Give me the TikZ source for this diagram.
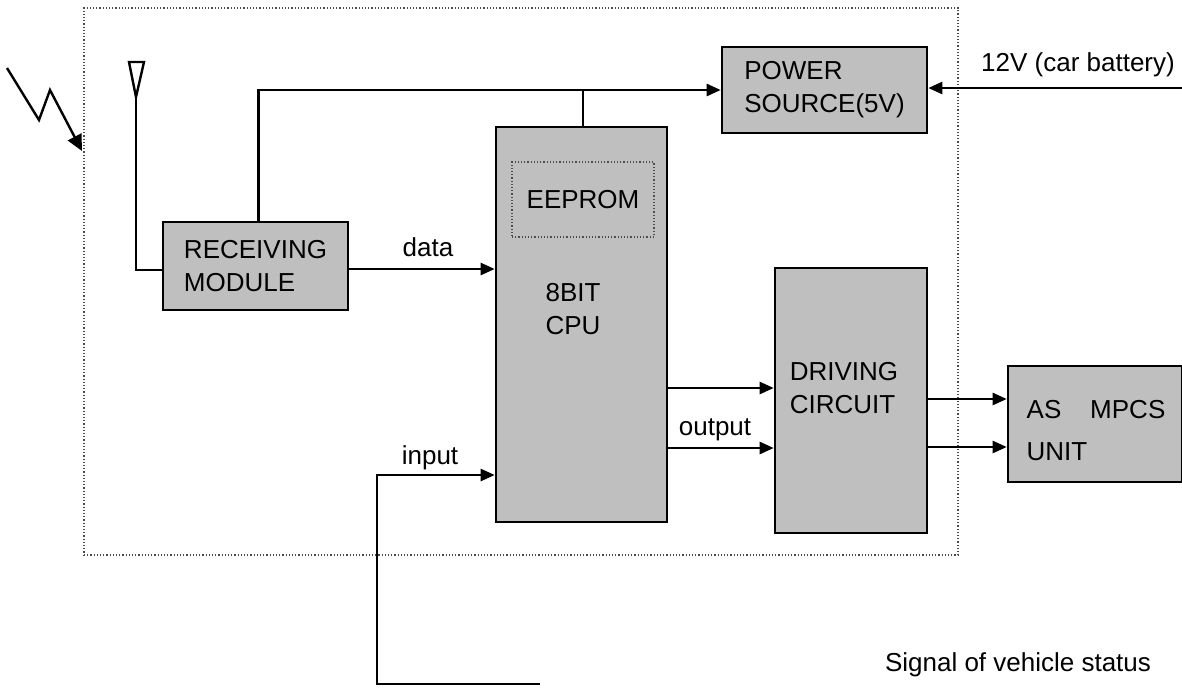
\documentclass[tikz,border=0pt]{standalone}
\usepackage{fontspec}
\setmainfont{Liberation Sans}
\usetikzlibrary{arrows.meta}
\begin{document}
\begin{tikzpicture}[x=0.5pt,y=-0.5pt,
  blk/.style={draw=black,line width=1.3pt,fill=black!25,inner sep=0pt,align=left},
  conn/.style={line width=1.2pt},
  arr/.style={conn,-{Triangle[length=7pt,width=6pt]}},
  lbl/.style={inner sep=0pt,font=\fontsize{13}{15}\selectfont},
  txt/.style={inner sep=0pt,align=left,font=\fontsize{13}{16.5}\selectfont}]
\useasboundingbox (0,0) rectangle (1182,687);
% outer dotted frame
\node[draw=black!70,densely dotted,line width=0.6pt,minimum width=437pt,minimum height=273.5pt,inner sep=0pt] (frame) at (521,281.5) {};
% blocks
\node[blk,minimum width=92.5pt,minimum height=44pt,txt] (rec) at (255.5,266) {RECEIVING\\MODULE};
\node[blk,minimum width=85.5pt,minimum height=197.5pt] (cpu) at (581.5,324.5) {};
\node[draw=black!70,densely dotted,line width=0.6pt,fill=black!25,minimum width=71pt,minimum height=37.5pt,txt] (eep) at (583,199.5) {EEPROM};
\node[txt] (cputxt) at (573,309) {8BIT\\CPU};
\node[blk,minimum width=102.5pt,minimum height=43pt,txt] (pwr) at (824.5,90) {POWER\\SOURCE(5V)};
\node[blk,minimum width=76pt,minimum height=132.5pt] (drv) at (851,400.5) {};
\node[txt] (drvtxt) at (844,388) {DRIVING\\CIRCUIT};
\node[blk,minimum width=87pt,minimum height=58pt] (asu) at (1095,424) {};
\node[txt,font=\fontsize{13}{21}\selectfont] (asutxt) at (1096,431) {AS\ \ \ \ MPCS\\UNIT};
% antenna
\coordinate (ant) at (136,97);
\draw[conn,line join=miter] (129,62) -- (144,62) -- (ant) -- cycle;
\draw[conn] (ant) |- ([yshift=-2pt]rec.west);
% lightning
\coordinate (l0) at (7,68);
\coordinate (l1) at (39,120);
\coordinate (l2) at (50,90);
\coordinate (l3) at (82,151);
\draw[conn,line join=miter,-{Triangle[length=8pt,width=7.5pt]}] (l0) -- (l1) -- (l2) -- (l3);
% power connections
\draw[arr] ([xshift=1.5pt]rec.north) |- (pwr.west);
\draw[conn] ([xshift=0.75pt]cpu.north) -- ([xshift=0.75pt]cpu.north |- pwr.west);
\coordinate (bat) at (1182,88);
\draw[arr] (bat) -- (bat -| pwr.east);
\node[lbl] (battxt) at (1078,65) {12V (car battery)};
% data
\draw[arr] ([yshift=-1.5pt]rec.east) -- ([yshift=-1.5pt]rec.east -| cpu.west);
\node[lbl] (datatxt) at (428,247) {data};
% output
\coordinate (o1) at (667,388);
\coordinate (o2) at (667,448);
\draw[arr] (o1) -- (o1 -| drv.west);
\draw[arr] (o2) -- (o2 -| drv.west);
\node[lbl] (outtxt) at (715,430) {output};
\coordinate (d1) at (927,399);
\coordinate (d2) at (927,447);
\draw[arr] (d1) -- (d1 -| asu.west);
\draw[arr] (d2) -- (d2 -| asu.west);
% input
\coordinate (inbot) at (540,684);
\coordinate (incorner) at (377,475);
\draw[arr] (inbot) -- (inbot -| incorner) -- (incorner) -- (incorner -| cpu.west);
\node[lbl] (intxt) at (430,458) {input};
\node[lbl] (sigtxt) at (1018,665) {Signal of vehicle status};
\end{tikzpicture}
\end{document}
